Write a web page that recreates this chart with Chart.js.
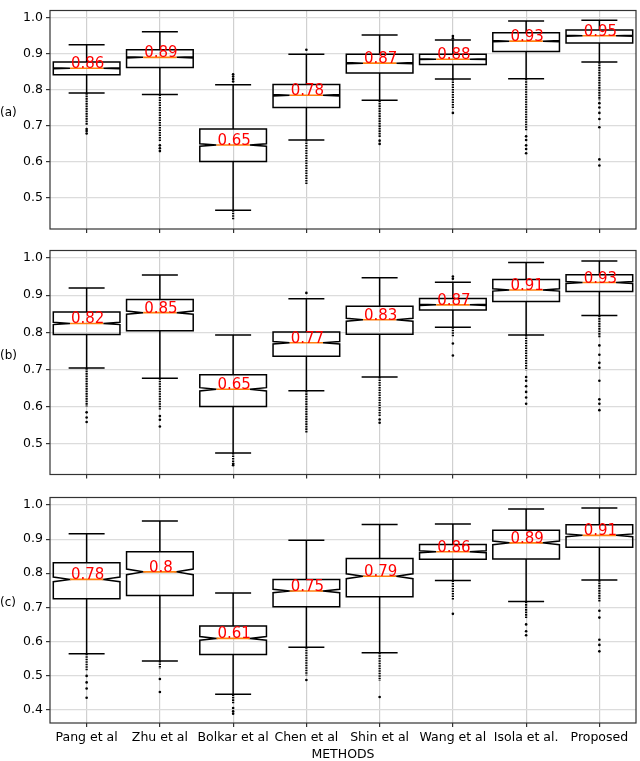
<!DOCTYPE html>
<html>
<head>
<meta charset="utf-8">
<script src="https://cdn.jsdelivr.net/npm/chart.js@4.4.0/dist/chart.umd.min.js"></script>
<style>
    html, body { margin: 0; padding: 0; background: #fff; }
    .panel { position: absolute; left: 0; width: 640px; }
</style>
</head>
<body>
<div class="panel" style="top:0;height:240px"><canvas id="chartA"></canvas></div>
<div class="panel" style="top:240px;height:245px"><canvas id="chartB"></canvas></div>
<div class="panel" style="top:487px;height:274px"><canvas id="chartC"></canvas></div>
<script>
// Methods on the x axis
const methods = ['Pang et al', 'Zhu et al', 'Bolkar et al', 'Chen et al', 'Shin et al', 'Wang et al', 'Isola et al.', 'Proposed'];

// Panel (a)
const aHigh  = [0.924, 0.960, 0.813, 0.898, 0.951, 0.937, 0.990, 0.992];
const aQ3    = [0.876, 0.910, 0.690, 0.814, 0.898, 0.898, 0.957, 0.965];
const aMed   = [0.859, 0.889, 0.646, 0.784, 0.873, 0.884, 0.934, 0.949];
const aQ1    = [0.841, 0.861, 0.600, 0.750, 0.846, 0.869, 0.905, 0.929];
const aLow   = [0.790, 0.786, 0.465, 0.660, 0.770, 0.829, 0.830, 0.876];
const aDense = [0.700, 0.656, 0.440, 0.535, 0.667, 0.745, 0.687, 0.770];
const aOutliers = [
    [0.690, 0.685, 0.678], [0.645, 0.637, 0.629], [0.842, 0.836, 0.829, 0.822], [0.910],
    [0.658, 0.649], [0.948, 0.942, 0.735], [0.670, 0.660, 0.645, 0.635, 0.623],
    [0.762, 0.750, 0.735, 0.718, 0.695, 0.606, 0.589]
];
const aLabels = ['0.86', '0.89', '0.65', '0.78', '0.87', '0.88', '0.93', '0.95'];

// Panel (b)
const bHigh  = [0.919, 0.954, 0.793, 0.890, 0.947, 0.935, 0.988, 0.992];
const bQ3    = [0.855, 0.888, 0.686, 0.801, 0.870, 0.891, 0.942, 0.955];
const bMed   = [0.824, 0.853, 0.647, 0.772, 0.834, 0.874, 0.914, 0.934];
const bQ1    = [0.794, 0.804, 0.601, 0.736, 0.795, 0.860, 0.883, 0.910];
const bLow   = [0.704, 0.677, 0.476, 0.643, 0.680, 0.814, 0.793, 0.845];
const bDense = [0.601, 0.593, 0.443, 0.530, 0.575, 0.787, 0.698, 0.787];
const bOutliers = [
    [0.585, 0.571, 0.559], [0.575, 0.565, 0.547], [0.447, 0.443], [0.906],
    [0.566, 0.557], [0.950, 0.944, 0.770, 0.738], [0.680, 0.670, 0.655, 0.640, 0.625, 0.608],
    [0.765, 0.740, 0.718, 0.705, 0.670, 0.620, 0.608, 0.591]
];
const bLabels = ['0.82', '0.85', '0.65', '0.77', '0.83', '0.87', '0.91', '0.93'];

// Panel (c)
const cHigh  = [0.916, 0.953, 0.742, 0.897, 0.943, 0.944, 0.988, 0.991];
const cQ3    = [0.831, 0.863, 0.645, 0.782, 0.843, 0.884, 0.926, 0.942];
const cMed   = [0.782, 0.804, 0.609, 0.748, 0.791, 0.863, 0.889, 0.911];
const cQ1    = [0.725, 0.735, 0.562, 0.702, 0.731, 0.841, 0.842, 0.876];
const cLow   = [0.564, 0.543, 0.445, 0.583, 0.567, 0.779, 0.717, 0.780];
const cDense = [0.515, 0.520, 0.419, 0.500, 0.485, 0.722, 0.669, 0.717];
const cOutliers = [
    [0.499, 0.480, 0.462, 0.435], [0.490, 0.452], [0.405, 0.395, 0.388], [0.487],
    [0.437], [0.681], [0.650, 0.630, 0.618],
    [0.690, 0.670, 0.605, 0.590, 0.571]
];
const cLabels = ['0.78', '0.8', '0.61', '0.75', '0.79', '0.86', '0.89', '0.91'];

// Y tick values
const yTicksAB = [0.5, 0.6, 0.7, 0.8, 0.9, 1.0];
const yTicksC  = [0.4, 0.5, 0.6, 0.7, 0.8, 0.9, 1.0];

const FONT = '"DejaVu Sans", "Liberation Sans", sans-serif';

// Draws whiskers, notched boxes, medians, dense flier runs and red labels
const boxplotPlugin = {
    id: 'boxplot',
    afterDatasetsDraw(chart, args, opts) {
        const ctx = chart.ctx;
        const y = chart.scales.y;
        const meta = chart.getDatasetMeta(0);
        ctx.save();
        meta.data.forEach((bar, i) => {
            const { x, width } = bar.getProps(['x', 'width'], true);
            const half = width / 2;
            const cap = width * 0.27;
            const pLow = y.getPixelForValue(opts.low[i]);
            const pQ1 = y.getPixelForValue(opts.q1[i]);
            const pMed = y.getPixelForValue(opts.med[i]);
            const pQ3 = y.getPixelForValue(opts.q3[i]);
            const pHigh = y.getPixelForValue(opts.high[i]);
            const pDense = y.getPixelForValue(opts.dense[i]);
            const notch = 1.57 * (opts.q3[i] - opts.q1[i]) / Math.sqrt(opts.n);
            const pNotchLo = y.getPixelForValue(opts.med[i] - notch);
            const pNotchHi = y.getPixelForValue(opts.med[i] + notch);

            // dense run of fliers below the lower whisker
            ctx.strokeStyle = '#000';
            ctx.lineWidth = 2.2;
            ctx.setLineDash([1.6, 0.9]);
            ctx.beginPath();
            ctx.moveTo(x, pLow);
            ctx.lineTo(x, pDense);
            ctx.stroke();
            ctx.setLineDash([]);

            // whiskers and caps
            ctx.lineWidth = 1.5;
            ctx.beginPath();
            ctx.moveTo(x, pQ1); ctx.lineTo(x, pLow);
            ctx.moveTo(x, pQ3); ctx.lineTo(x, pHigh);
            ctx.moveTo(x - cap, pLow); ctx.lineTo(x + cap, pLow);
            ctx.moveTo(x - cap, pHigh); ctx.lineTo(x + cap, pHigh);
            ctx.stroke();

            // notched box
            const l = x - half, r = x + half, nl = x - half / 2, nr = x + half / 2;
            ctx.beginPath();
            ctx.moveTo(l, pQ1);
            ctx.lineTo(r, pQ1);
            ctx.lineTo(r, pNotchLo);
            ctx.lineTo(nr, pMed);
            ctx.lineTo(r, pNotchHi);
            ctx.lineTo(r, pQ3);
            ctx.lineTo(l, pQ3);
            ctx.lineTo(l, pNotchHi);
            ctx.lineTo(nl, pMed);
            ctx.lineTo(l, pNotchLo);
            ctx.closePath();
            ctx.stroke();

            // median
            ctx.strokeStyle = '#ff7f0e';
            ctx.lineWidth = 1.6;
            ctx.beginPath();
            ctx.moveTo(nl, pMed);
            ctx.lineTo(nr, pMed);
            ctx.stroke();

            // label
            ctx.fillStyle = '#ff0000';
            ctx.font = '15px ' + FONT;
            ctx.textAlign = 'center';
            ctx.textBaseline = 'alphabetic';
            ctx.fillText(opts.labels[i], x + 1, pMed);
        });
        ctx.restore();
    },
    afterDraw(chart, args, opts) {
        const ctx = chart.ctx;
        const area = chart.chartArea;
        ctx.save();
        ctx.strokeStyle = '#333';
        ctx.lineWidth = 1.2;
        ctx.strokeRect(area.left, area.top, area.right - area.left, area.bottom - area.top);
        ctx.fillStyle = '#000';
        ctx.font = '12px ' + FONT;
        ctx.textAlign = 'left';
        ctx.textBaseline = 'middle';
        ctx.fillText(opts.tag, 0, (area.top + area.bottom) / 2 - 7);
        ctx.restore();
    }
};

function makePanel(canvasId, tag, n, low, q1, med, q3, high, dense, outliers, labels, yMin, yMax, yTicks, isBottom, pad) {
    const boxes = methods.map((m, i) => [q1[i], q3[i]]);
    const fliers = [];
    outliers.forEach((list, i) => {
        list.forEach(v => fliers.push({ x: methods[i], y: v }));
    });

    const ctx = document.getElementById(canvasId).getContext('2d');
    return new Chart(ctx, {
        type: 'bar',
        data: {
            labels: methods,
            datasets: [
                {
                    data: boxes,
                    backgroundColor: 'rgba(0,0,0,0)',
                    borderWidth: 0,
                    categoryPercentage: 1.0,
                    barPercentage: 0.91
                },
                {
                    type: 'scatter',
                    data: fliers,
                    pointRadius: 1.3,
                    pointBackgroundColor: '#000',
                    pointBorderWidth: 0
                }
            ]
        },
        options: {
            responsive: true,
            maintainAspectRatio: false,
            animation: false,
            layout: { padding: pad },
            plugins: {
                legend: { display: false },
                tooltip: { enabled: false },
                boxplot: { tag, n, low, q1, med, q3, high, dense, labels }
            },
            scales: {
                x: {
                    type: 'category',
                    offset: true,
                    grid: { offset: false, color: '#d0d0d0', lineWidth: 1.2, tickLength: 4, tickColor: '#333' },
                    border: { display: false },
                    ticks: {
                        display: isBottom,
                        color: '#000',
                        font: { family: FONT, size: 12.5 },
                        padding: 3,
                        maxRotation: 0,
                        minRotation: 0,
                        autoSkip: false
                    },
                    title: {
                        display: isBottom,
                        text: 'METHODS',
                        color: '#000',
                        font: { family: FONT, size: 12.5, lineHeight: 1 },
                        padding: { top: 0, bottom: 0 }
                    },
                    afterFit: s => { s.height = isBottom ? 38 : 4; }
                },
                y: {
                    min: yMin,
                    max: yMax,
                    afterBuildTicks: s => { s.ticks = yTicks.map(v => ({ value: v })); },
                    grid: { color: '#dcdcdc', lineWidth: 1.2, tickLength: 4, tickColor: '#333' },
                    border: { display: false },
                    ticks: {
                        color: '#000',
                        font: { family: FONT, size: 12.5 },
                        padding: 3,
                        callback: v => v.toFixed(1)
                    },
                    afterFit: s => { s.width = 50; }
                }
            }
        },
        plugins: [boxplotPlugin]
    });
}

makePanel('chartA', '(a)', 2000, aLow, aQ1, aMed, aQ3, aHigh, aDense, aOutliers, aLabels,
    0.413, 1.019, yTicksAB, false, { top: 2, bottom: 7, left: 0, right: 3 });
makePanel('chartB', '(b)', 900, bLow, bQ1, bMed, bQ3, bHigh, bDense, bOutliers, bLabels,
    0.418, 1.020, yTicksAB, false, { top: 8, bottom: 5, left: 0, right: 3 });
makePanel('chartC', '(c)', 600, cLow, cQ1, cMed, cQ3, cHigh, cDense, cOutliers, cLabels,
    0.361, 1.022, yTicksC, true, { top: 8, bottom: 0, left: 0, right: 3 });
</script>
</body>
</html>
